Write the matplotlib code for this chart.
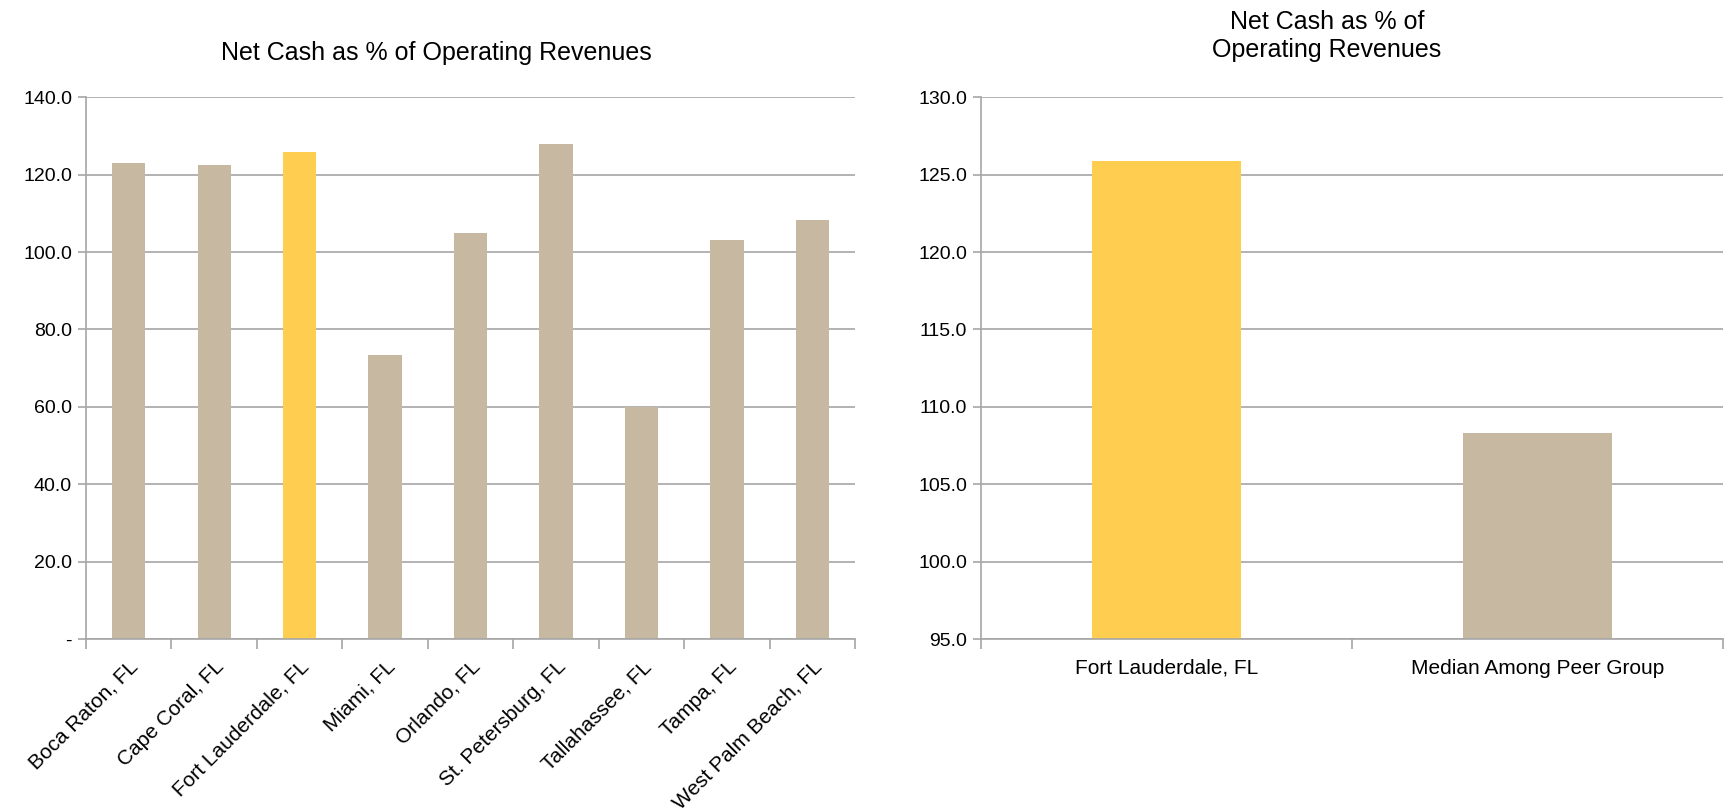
import numpy as np
import matplotlib.pyplot as plt
from matplotlib.ticker import FixedLocator

plt.rcParams['font.family'] = ['Liberation Sans', 'DejaVu Sans']

cities = ['Boca Raton, FL', 'Cape Coral, FL', 'Fort Lauderdale, FL', 'Miami, FL',
          'Orlando, FL', 'St. Petersburg, FL', 'Tallahassee, FL', 'Tampa, FL',
          'West Palm Beach, FL']
net_cash = [122.9, 122.4, 125.9, 73.4, 104.9, 128.0, 60.0, 103.1, 108.4]
highlight = 'Fort Lauderdale, FL'

summary_labels = ['Fort Lauderdale, FL', 'Median Among Peer Group']
summary_vals = [125.9, 108.3]

left_ticks = [0, 20, 40, 60, 80, 100, 120, 140]
right_ticks = [95, 100, 105, 110, 115, 120, 125, 130]

TAN = '#C7B8A1'
GOLD = '#FFCE50'
GRID = '#A6A6A6'
YFS = 14
XFS = 15
TFS = 18

fig = plt.figure(figsize=(17.34, 8.10), dpi=100)
ax1 = fig.add_axes([0.0496, 0.211, 0.4435, 0.669])
ax2 = fig.add_axes([0.5657, 0.211, 0.428, 0.669])


def style(ax, n, xpad):
    for s in ['top', 'right']:
        ax.spines[s].set_visible(False)
    for s in ['left', 'bottom']:
        ax.spines[s].set_color(GRID)
        ax.spines[s].set_linewidth(1.2)
    ax.set_axisbelow(True)
    ax.yaxis.grid(True, color=GRID, linewidth=1.2)
    ax.set_xlim(-0.5, n - 0.5)
    ax.xaxis.set_minor_locator(FixedLocator(np.arange(-0.5, n, 1.0)))
    ax.tick_params(axis='x', which='major', length=0, labelsize=XFS, pad=xpad)
    ax.tick_params(axis='x', which='minor', length=7, color=GRID, width=1.2)
    ax.tick_params(axis='y', length=6, color=GRID, width=1.2, labelsize=YFS, pad=4)


x = np.arange(len(cities))
colors = [GOLD if c == highlight else TAN for c in cities]
ax1.bar(x, net_cash, width=0.39, color=colors)
style(ax1, len(cities), 13)
ax1.set_ylim(0, 140)
ax1.set_yticks(left_ticks)
ax1.set_yticklabels(['-' if t == 0 else '{:.1f}'.format(t) for t in left_ticks])
ax1.set_xticks(x)
ax1.set_xticklabels(cities, rotation=45, ha='right', rotation_mode='anchor')
ax1.set_title('Net Cash as % of Operating Revenues', fontsize=TFS, pad=27, x=0.455)

x2 = np.arange(len(summary_labels))
ax2.bar(x2, summary_vals, width=0.40, color=[GOLD, TAN])
style(ax2, len(summary_labels), 14)
ax2.set_ylim(95, 130)
ax2.set_yticks(right_ticks)
ax2.set_yticklabels(['{:.1f}'.format(t) for t in right_ticks])
ax2.set_xticks(x2)
ax2.set_xticklabels(summary_labels)
ax2.set_title('Net Cash as % of\nOperating Revenues', fontsize=TFS, pad=29, x=0.466)

fig.savefig('out.png', dpi=100)
